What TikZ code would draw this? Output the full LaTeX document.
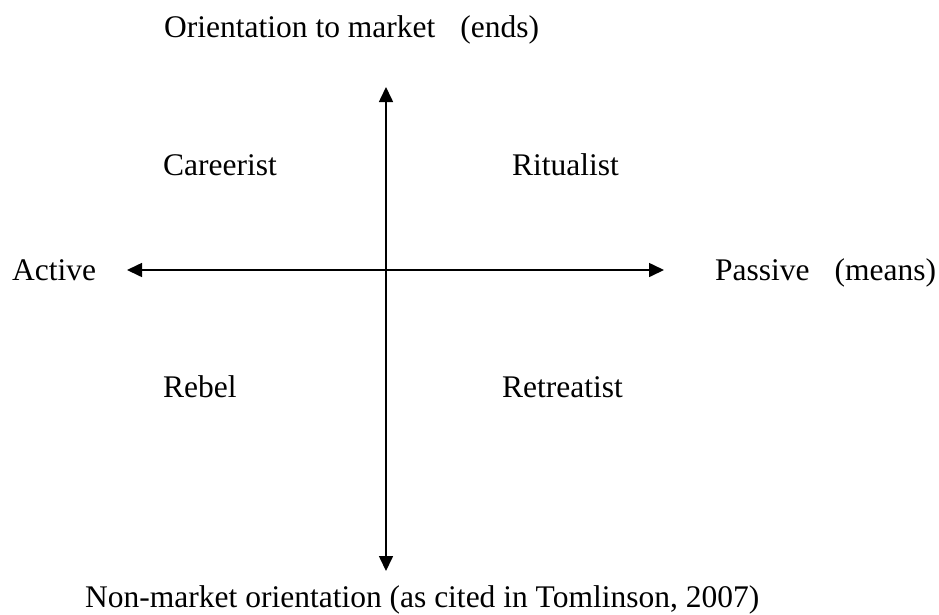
\documentclass[tikz,border=0pt]{standalone}
\usepackage{fontspec}
\setmainfont{Liberation Serif}
\usetikzlibrary{arrows.meta}
\begin{document}
\begin{tikzpicture}[x=1pt,y=-1pt,
  lbl/.style={anchor=base west,inner sep=0pt,font=\fontsize{31.5}{36}\selectfont},
  axis/.style={line width=1.6pt,{Triangle[length=15pt,width=14pt]}-{Triangle[length=15pt,width=14pt]}}]
\useasboundingbox (0,0) rectangle (939,614);
\coordinate (top) at (386,87);
\coordinate (bot) at (386,571);
\coordinate (lft) at (127,270);
\coordinate (rgt) at (664,270);
\draw[axis] (top) -- (bot);
\draw[axis] (lft) -- (rgt);
\node[lbl] (ends) at (164,37) {Orientation to market\hspace{25pt}(ends)};
\node[lbl] (careerist) at (163,175) {Careerist};
\node[lbl] (ritualist) at (512,175) {Ritualist};
\node[lbl] (active) at (12,280) {Active};
\node[lbl] (means) at (715,280) {Passive\hspace{25pt}(means)};
\node[lbl] (rebel) at (163,397) {Rebel};
\node[lbl] (retreatist) at (502,397) {Retreatist};
\node[lbl] (nonmarket) at (85,607) {Non-market orientation (as cited in Tomlinson, 2007)};
\end{tikzpicture}
\end{document}
